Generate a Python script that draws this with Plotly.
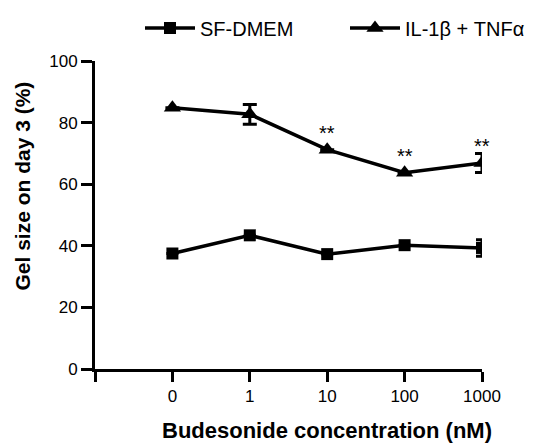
import plotly.graph_objects as go

categories = ["0", "1", "10", "100", "1000"]
sf_dmem = [37.5, 43.4, 37.3, 40.2, 39.3]
sf_dmem_err = [None, None, None, None, 2.7]
il_tnf = [84.8, 82.7, 71.2, 63.7, 66.9]
il_tnf_err = [None, 3.2, None, None, 3.1]
significance = ["", "", "**", "**", "**"]

FONT = "Liberation Sans, Arial, sans-serif"
xpos = list(range(len(categories)))
W, H = 527, 438  # page has an 8px body margin in a 535x446 window

fig = go.Figure()
fig.add_trace(go.Scatter(
    x=xpos, y=sf_dmem, name="SF-DMEM", mode="lines+markers", legend="legend",
    line=dict(color="black", width=3.5),
    marker=dict(symbol="square", size=12, color="black"),
    error_y=dict(type="data", array=sf_dmem_err, color="black", thickness=3, width=6),
))
fig.add_trace(go.Scatter(
    x=xpos, y=il_tnf, name="IL-1β + TNFα", mode="lines+markers", legend="legend2",
    line=dict(color="black", width=3.5),
    marker=dict(symbol="triangle-up", size=15, color="black"),
    error_y=dict(type="data", array=il_tnf_err, color="black", thickness=3, width=7),
))

for i, s in enumerate(significance):
    if s:
        fig.add_annotation(x=i, y=il_tnf[i], text=s, showarrow=False,
                           yanchor="middle", yshift=17,
                           font=dict(family=FONT, size=20, color="black"))

fig.add_annotation(x=2, xref="x", y=0, yref="paper", yanchor="middle", yshift=-61.5,
                   text="<b>Budesonide concentration (nM)</b>", showarrow=False,
                   font=dict(family=FONT, size=22, color="black"))
fig.add_annotation(x=0, xref="paper", y=59.4, yref="y", xanchor="center", xshift=-72.5,
                   text="<b>Gel size on day 3 (%)</b>", textangle=-90, showarrow=False,
                   font=dict(family=FONT, size=21, color="black"))

legend_common = dict(orientation="h", xanchor="left", yref="container", xref="container",
                     y=1 - 20 / H, yanchor="middle",
                     font=dict(family=FONT, size=20, color="black"),
                     itemwidth=50, bgcolor="rgba(0,0,0,0)")

fig.update_layout(
    width=W, height=H,
    margin=dict(l=87, r=53, t=53, b=76.5, autoexpand=False),
    paper_bgcolor="white", plot_bgcolor="white",
    font=dict(family=FONT, size=17, color="black"),
    showlegend=True,
    legend=dict(x=132 / W, **legend_common),
    legend2=dict(x=337 / W, **legend_common),
    xaxis=dict(range=[-1, 4], tickvals=[-1] + xpos, ticktext=[""] + categories,
               showgrid=False, zeroline=False, showline=True, linecolor="black", linewidth=3,
               ticks="outside", ticklen=10, tickwidth=3, tickcolor="black",
               tickfont=dict(family=FONT, size=17, color="black")),
    yaxis=dict(range=[0, 100], tickvals=[0, 20, 40, 60, 80, 100],
               showgrid=False, zeroline=False, showline=True, linecolor="black", linewidth=3,
               ticks="outside", ticklen=11, tickwidth=3, tickcolor="black",
               tickfont=dict(family=FONT, size=17, color="black")),
)

fig.write_html("out.html")
